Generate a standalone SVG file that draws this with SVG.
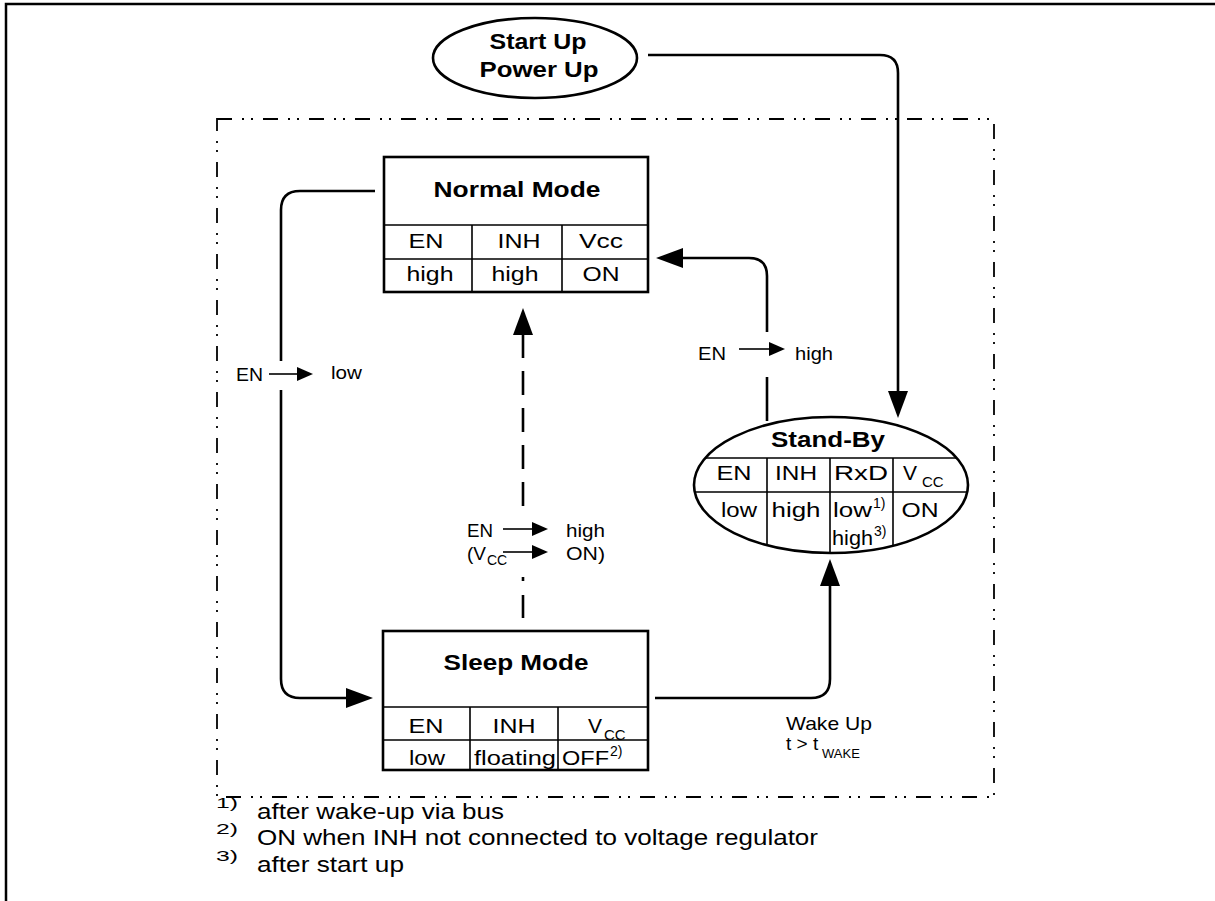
<svg xmlns="http://www.w3.org/2000/svg" width="1215" height="901" viewBox="0 0 1215 901">
<style>
text{font-family:"Liberation Sans",Arial,sans-serif;fill:#000}
.b{font-weight:bold;font-size:22px;text-anchor:middle}
.c{font-size:21px;text-anchor:middle}
.cs{font-size:21px}
.l{font-size:19px}
.f{font-size:22px}
.sup{font-size:14px}
.fs{font-size:15px}
.box{fill:#fff;stroke:#000;stroke-width:2.6}
.grid{stroke:#000;stroke-width:1.6;fill:none}
.con{fill:none;stroke:#000;stroke-width:2.6}
.thin{fill:none;stroke:#000;stroke-width:1.6}
.frame{fill:none;stroke:#000;stroke-width:1.8;stroke-dasharray:15 10 2 7 2 10}
</style>
<defs>
<marker id="ah" markerUnits="userSpaceOnUse" markerWidth="27" markerHeight="20" refX="0" refY="10" orient="auto" viewBox="0 0 27 20"><path d="M0,0 L27,10 L0,20 z" fill="#000"/></marker>
<marker id="as" markerUnits="userSpaceOnUse" markerWidth="16" markerHeight="14" refX="0" refY="7" orient="auto" viewBox="0 0 16 14"><path d="M0,0 L16,7 L0,14 z" fill="#000"/></marker>
<clipPath id="sbclip"><ellipse cx="831" cy="485" rx="137" ry="68"/></clipPath>
</defs>
<rect width="1215" height="901" fill="#fff"/>
<path d="M6 901 V4 H1215" fill="none" stroke="#000" stroke-width="2.5"/>
<rect class="frame" x="217" y="119" width="777" height="678"/>

<g id="connectors">
<path class="con" d="M648 55 H880 Q898 55 898 73 V391" marker-end="url(#ah)"/>
<path class="con" d="M767 332 V276 Q767 258 749 258 H683" marker-end="url(#ah)"/>
<path class="con" d="M767 377 V421"/>
<path class="con" d="M375 191 H300 Q281 191 281 210 V361"/>
<path class="con" d="M281 390 V679 Q281 698 300 698 H346" marker-end="url(#ah)"/>
<path class="con" d="M655 698 H811 Q830 698 830 679 V586" marker-end="url(#ah)"/>
<path class="con" d="M523 506 V335" stroke-dasharray="24 13" marker-end="url(#ah)"/>
<path class="con" d="M523 577 V581"/>
<path class="con" d="M523 595 V618"/>
<path class="thin" d="M269 374 H297" marker-end="url(#as)"/>
<path class="thin" d="M739 349 H769" marker-end="url(#as)"/>
<path class="thin" d="M503 529 H532" marker-end="url(#as)"/>
<path class="thin" d="M503 552 H532" marker-end="url(#as)"/>
<text class="l" x="236" y="381" textLength="27" lengthAdjust="spacingAndGlyphs">EN</text>
<text class="l" x="331" y="379" textLength="31" lengthAdjust="spacingAndGlyphs">low</text>
<text class="l" x="698" y="360" textLength="28" lengthAdjust="spacingAndGlyphs">EN</text>
<text class="l" x="795" y="360" textLength="38" lengthAdjust="spacingAndGlyphs">high</text>
<text class="l" x="467" y="537" textLength="26" lengthAdjust="spacingAndGlyphs">EN</text>
<text class="l" x="566" y="537" textLength="39" lengthAdjust="spacingAndGlyphs">high</text>
<text class="l" x="467" y="560">(V<tspan x="487" dy="5" font-size="14">CC</tspan></text>
<text class="l" x="566" y="560" textLength="39" lengthAdjust="spacingAndGlyphs">ON)</text>
<text class="l" x="786" y="730" textLength="86" lengthAdjust="spacingAndGlyphs">Wake Up</text>
<text class="l" x="786" y="750">t &gt; t<tspan x="822" dy="8" font-size="13">WAKE</tspan></text>
</g>

<g id="startup">
<ellipse cx="535" cy="58" rx="102" ry="40" class="box"/>
<text class="b" x="538" y="49" textLength="97" lengthAdjust="spacingAndGlyphs">Start Up</text>
<text class="b" x="539" y="77" textLength="119" lengthAdjust="spacingAndGlyphs">Power Up</text>
</g>

<g id="normal">
<rect class="box" x="384" y="157" width="264" height="135"/>
<path class="grid" d="M384 225 H648 M384 259 H648 M472 225 V292 M562 225 V292"/>
<text class="b" x="517" y="197" textLength="167" lengthAdjust="spacingAndGlyphs">Normal Mode</text>
<text class="c" x="426" y="248" textLength="35" lengthAdjust="spacingAndGlyphs">EN</text>
<text class="c" x="519" y="248" textLength="43" lengthAdjust="spacingAndGlyphs">INH</text>
<text class="c" x="601" y="248" textLength="44" lengthAdjust="spacingAndGlyphs">Vcc</text>
<text class="c" x="430" y="281" textLength="47" lengthAdjust="spacingAndGlyphs">high</text>
<text class="c" x="515" y="281" textLength="47" lengthAdjust="spacingAndGlyphs">high</text>
<text class="c" x="601" y="281" textLength="37" lengthAdjust="spacingAndGlyphs">ON</text>
</g>

<g id="standby">
<ellipse cx="831" cy="485" rx="137" ry="68" class="box"/>
<g clip-path="url(#sbclip)">
<path class="grid" d="M690 458 H970 M690 492 H970 M767 458 V560 M830 458 V560 M893 458 V560"/>
</g>
<text class="b" x="828" y="447" textLength="114" lengthAdjust="spacingAndGlyphs">Stand-By</text>
<text class="c" x="734" y="480" textLength="35" lengthAdjust="spacingAndGlyphs">EN</text>
<text class="c" x="796" y="480" textLength="42" lengthAdjust="spacingAndGlyphs">INH</text>
<text class="c" x="861" y="480" textLength="54" lengthAdjust="spacingAndGlyphs">RxD</text>
<text class="cs" x="903" y="480">V<tspan x="922" dy="7" font-size="15">CC</tspan></text>
<text class="c" x="739" y="517" textLength="36" lengthAdjust="spacingAndGlyphs">low</text>
<text class="c" x="796" y="517" textLength="49" lengthAdjust="spacingAndGlyphs">high</text>
<text class="cs" x="833" y="517" textLength="39" lengthAdjust="spacingAndGlyphs">low</text>
<text class="sup" x="873" y="508">1)</text>
<text class="c" x="920" y="517" textLength="37" lengthAdjust="spacingAndGlyphs">ON</text>
<text class="cs" x="832" y="545" textLength="41" lengthAdjust="spacingAndGlyphs">high</text>
<text class="sup" x="874" y="536">3)</text>
</g>

<g id="sleep">
<rect class="box" x="383" y="631" width="265" height="139"/>
<path class="grid" d="M383 707 H648 M383 740 H648 M470 707 V770 M558 707 V770"/>
<text class="b" x="516" y="670" textLength="145" lengthAdjust="spacingAndGlyphs">Sleep Mode</text>
<text class="c" x="426" y="733" textLength="35" lengthAdjust="spacingAndGlyphs">EN</text>
<text class="c" x="514" y="733" textLength="43" lengthAdjust="spacingAndGlyphs">INH</text>
<text class="cs" x="588" y="733">V<tspan x="604" dy="7" font-size="15">CC</tspan></text>
<text class="c" x="427" y="765" textLength="36" lengthAdjust="spacingAndGlyphs">low</text>
<text class="c" x="515" y="765" textLength="82" lengthAdjust="spacingAndGlyphs">floating</text>
<text class="cs" x="562" y="765" textLength="47" lengthAdjust="spacingAndGlyphs">OFF</text>
<text class="sup" x="610" y="756">2)</text>
</g>

<g id="footnotes">
<text class="fs" x="216" y="808" textLength="22" lengthAdjust="spacingAndGlyphs">1)</text>
<text class="f" x="257" y="819" textLength="247" lengthAdjust="spacingAndGlyphs">after wake-up via bus</text>
<text class="fs" x="216" y="834" textLength="22" lengthAdjust="spacingAndGlyphs">2)</text>
<text class="f" x="257" y="845" textLength="561" lengthAdjust="spacingAndGlyphs">ON when INH not connected to voltage regulator</text>
<text class="fs" x="216" y="861" textLength="22" lengthAdjust="spacingAndGlyphs">3)</text>
<text class="f" x="257" y="872" textLength="147" lengthAdjust="spacingAndGlyphs">after start up</text>
</g>
</svg>
